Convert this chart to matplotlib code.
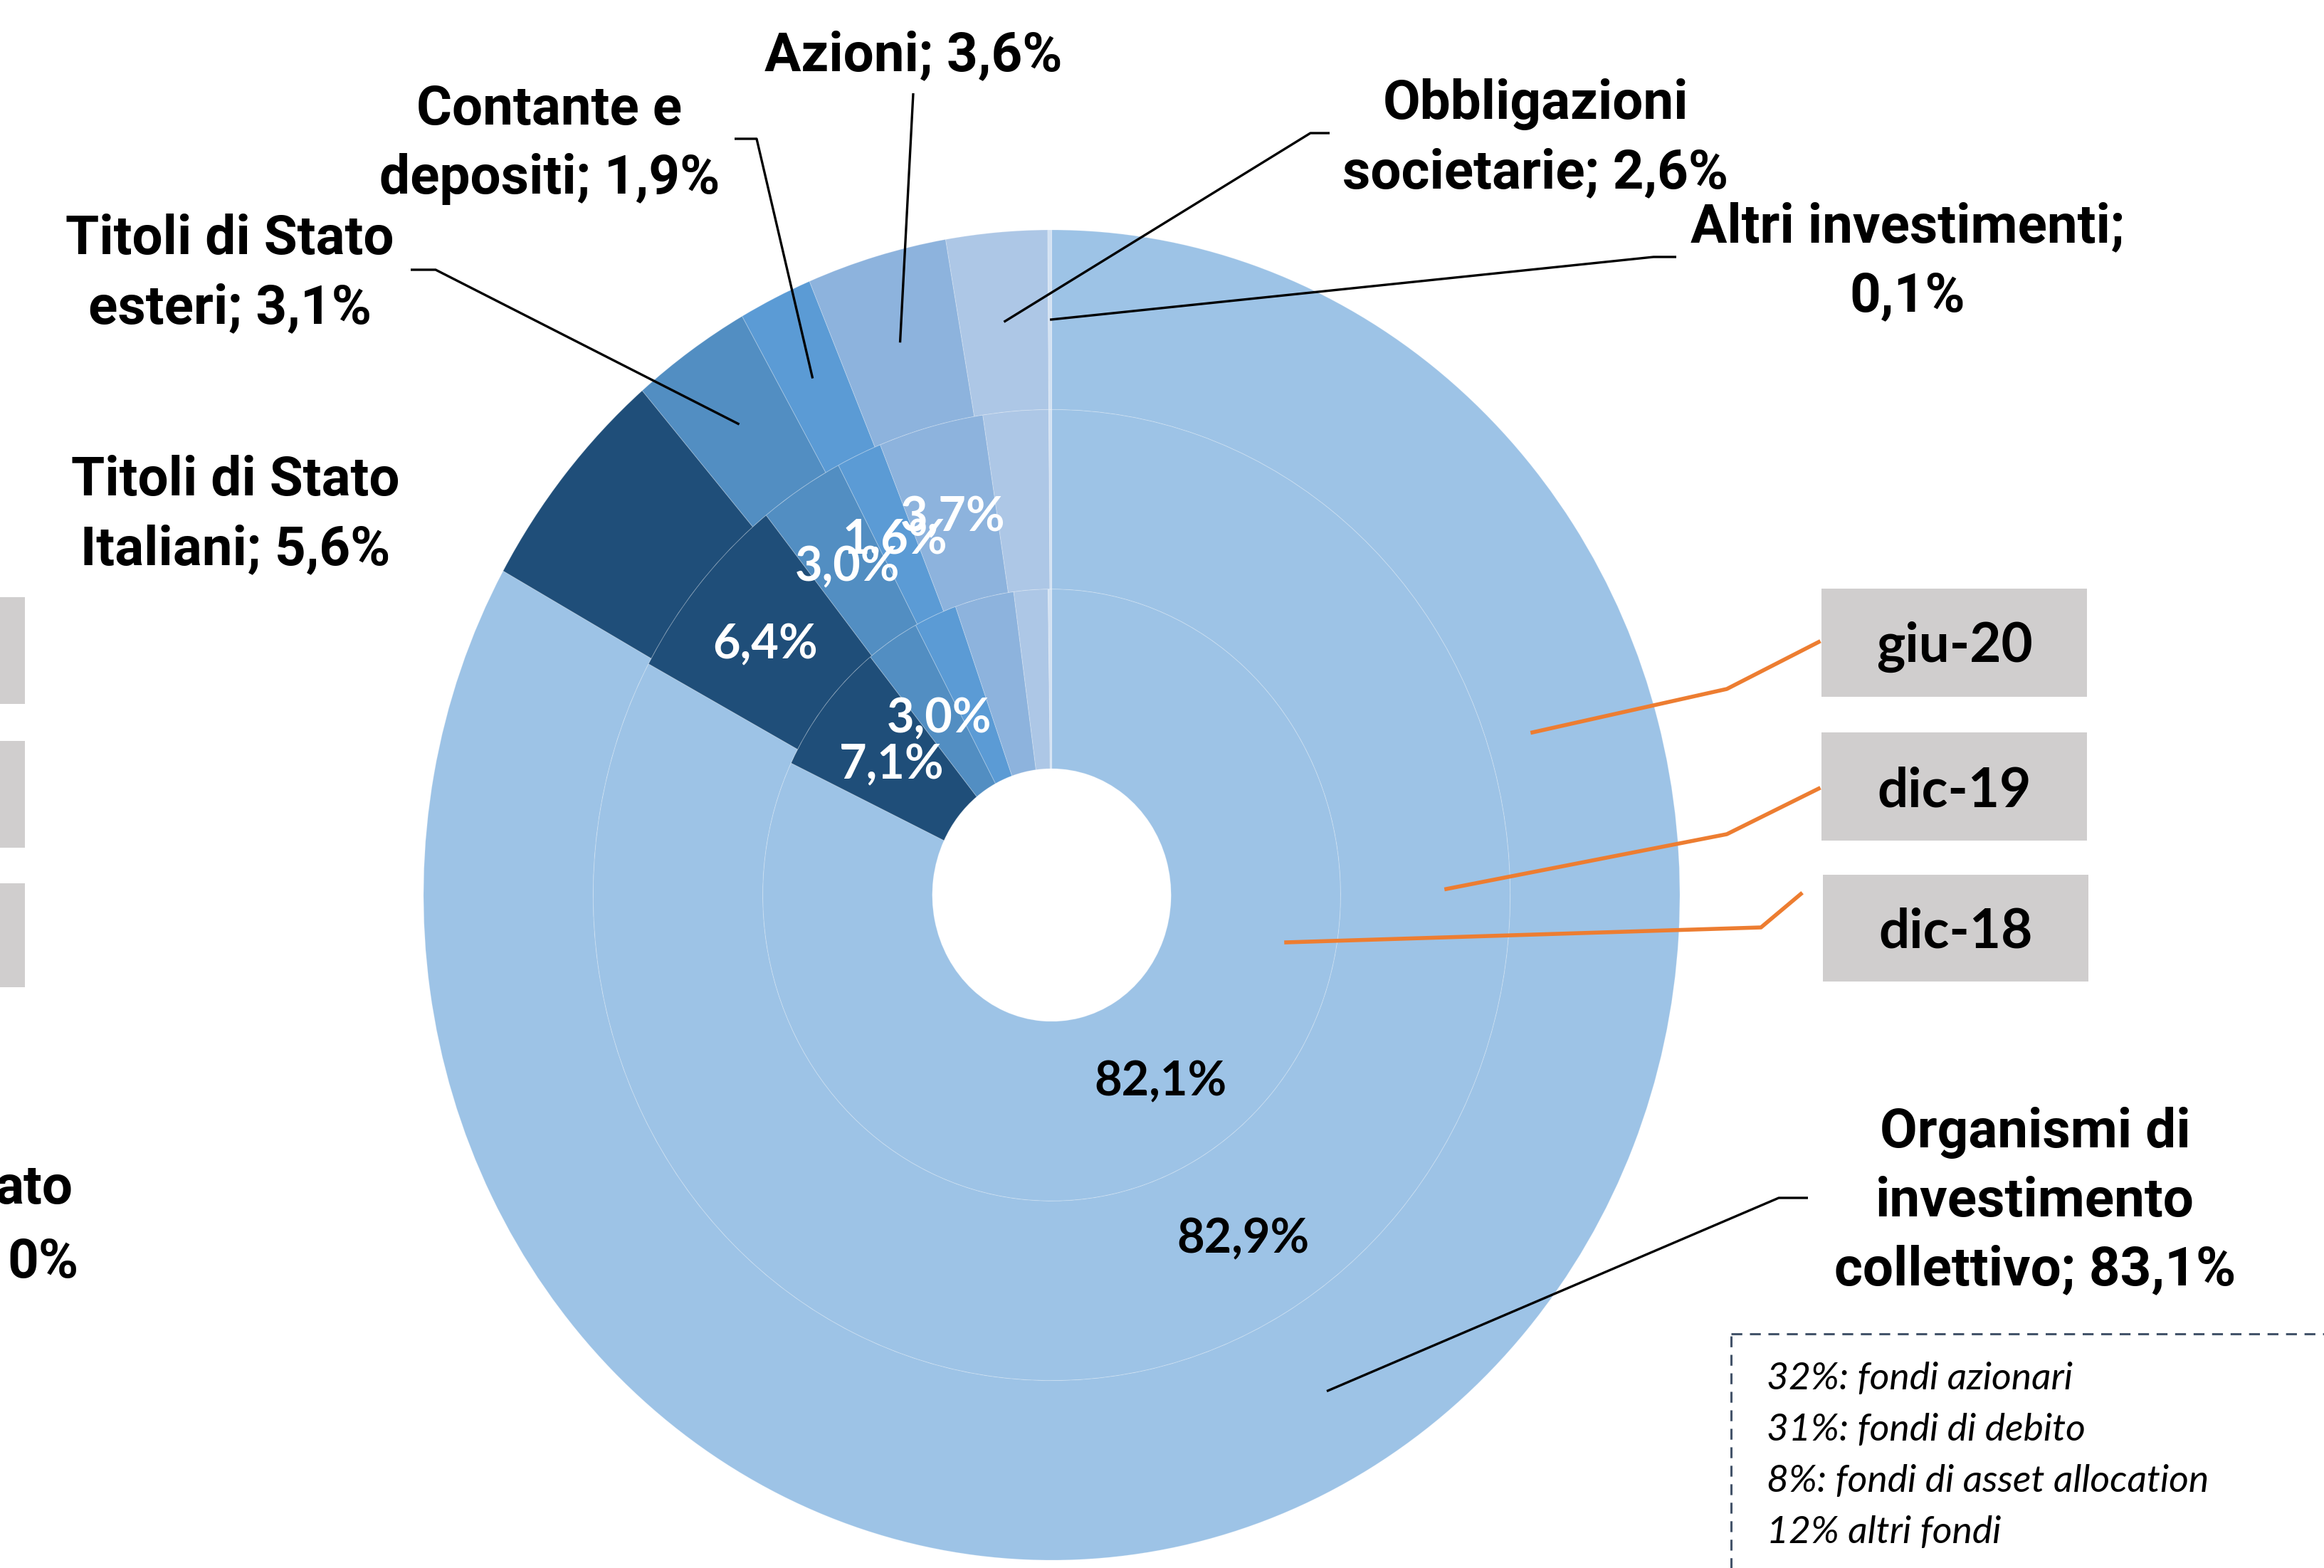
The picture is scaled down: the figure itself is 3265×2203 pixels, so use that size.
import numpy as np
import matplotlib.pyplot as plt
from matplotlib.patches import Rectangle
from matplotlib.transforms import offset_copy

# composizione degli investimenti, tre date (anello interno -> esterno)
categories = ["Organismi di investimento collettivo", "Titoli di Stato Italiani",
              "Titoli di Stato esteri", "Contante e depositi", "Azioni",
              "Obbligazioni societarie", "Altri investimenti"]
dic18 = [82.1, 7.1, 3.0, 2.4, 3.3, 1.9, 0.2]
dic19 = [82.9, 6.4, 3.0, 1.6, 3.7, 2.3, 0.1]
giu20 = [83.1, 5.6, 3.1, 1.9, 3.6, 2.6, 0.1]
periods = ["dic-18", "dic-19", "giu-20"]

colors = ["#9DC3E6", "#1F4E79", "#528EC2", "#5B9BD5", "#8DB3DD", "#ADC7E6", "#D3E2F3"]

label_names = ["Organismi di\ninvestimento\ncollettivo", "Titoli di Stato\nItaliani",
               "Titoli di Stato\nesteri", "Contante e\ndepositi", "Azioni",
               "Obbligazioni\nsocietarie", "Altri investimenti"]
label_seps = ["; ", "; ", "; ", "; ", "; ", "; ", ";\n"]

box_text = ["32%: fondi azionari", "31%: fondi di debito",
            "8%: fondi di asset allocation", "12% altri fondi"]


def pct(v):
    return f"{v:.1f}".replace(".", ",") + "%"


W, H = 3265, 2203
fig = plt.figure(figsize=(W / 100, H / 100), dpi=100)

# pie geometry in pixels (slightly taller than wide, as in the original)
cx, cy, Rx, Ry = 1477.5, 1257.5, 882.5, 934.5
ax = fig.add_axes([(cx - Rx) / W, (H - cy - Ry) / H, 2 * Rx / W, 2 * Ry / H])

hole = 0.19
width = (1 - hole) / 3
radii = [hole + width, hole + 2 * width, 1.0]
edge = dict(edgecolor=(1, 1, 1, 0.2), linewidth=0.8)
for vals, r in zip([dic18, dic19, giu20], radii):
    ax.pie(vals, radius=r, colors=colors, startangle=90, counterclock=False,
           wedgeprops=dict(width=width, **edge))
ax.set_aspect("auto")
ax.set_xlim(-1, 1)
ax.set_ylim(-1, 1)
ax.axis("off")


def mid_point(vals, i, r):
    cum = np.cumsum([0] + list(vals))
    a = np.deg2rad((cum[i] + vals[i] / 2) / sum(vals) * 360)
    return r * np.sin(a), r * np.cos(a)


num_font = dict(family=["Lato", "DejaVu Sans"], fontweight="bold", fontsize=48)
num_tr = offset_copy(ax.transData, fig=fig, y=-6, units="dots")
# data labels inside the rings
shown = [(dic19, 1, [0, 1, 2, 3, 4]), (dic18, 0, [0, 1, 2])]
for vals, k, idxs in shown:
    rmid = radii[k] - width / 2
    for i in idxs:
        x, y = mid_point(vals, i, rmid)
        ax.text(x, y, pct(vals[i]), ha="center", va="center", transform=num_tr,
                color="black" if i == 0 else "white", **num_font)

# overlay in pixel coordinates for labels, leaders and boxes
ov = fig.add_axes([0, 0, 1, 1], zorder=5)
ov.set_xlim(0, W)
ov.set_ylim(H, 0)
ov.axis("off")
ov.patch.set_alpha(0)


def to_px(x, y):
    return cx + x * Rx, cy - y * Ry


lab_font = dict(family=["Roboto", "DejaVu Sans"], fontweight="bold", fontsize=55)
label_xy = [(2859, 1688), (331, 724), (323, 385), (772, 203), (1283, 79),
            (2157, 195), (2680, 368)]
leader_pts = [[(2499, 1683), (2540, 1683)], None, [(612, 379), (577, 379)],
              [(1063, 195), (1032, 195)], [(1283, 131)],
              [(1841, 187), (1868, 187)], [(2323, 361), (2355, 361)]]
r_lead = 1 - width / 2
for i in range(len(categories)):
    ov.text(*label_xy[i], label_names[i] + label_seps[i] + pct(giu20[i]),
            ha="center", va="center", linespacing=1.42, **lab_font)
    if leader_pts[i]:
        pts = [to_px(*mid_point(giu20, i, r_lead))] + leader_pts[i]
        xs, ys = zip(*pts)
        ov.plot(xs, ys, color="black", lw=2.4, solid_capstyle="butt")

# period boxes with orange leaders
box_y = [(827, 979), (1029, 1181), (1229, 1379)]
box_x = [(2559, 2932), (2559, 2932), (2561, 2934)]
orange = [[(2153, 1029), (2426, 968), (2555, 902)],
          [(2032, 1249), (2426, 1172), (2555, 1108)],
          [(1807, 1324), (2474, 1303), (2530, 1256)]]
for j, name in enumerate(periods[::-1]):
    (x0, x1), (y0, y1) = box_x[j], box_y[j]
    ov.add_patch(Rectangle((x0, y0), x1 - x0, y1 - y0, color="#D0CECE", lw=0))
    ov.text((x0 + x1) / 2, (y0 + y1) / 2 + 6, name, ha="center", va="center",
            family=["Lato", "DejaVu Sans"], fontweight="bold", fontsize=55)
    xs, ys = zip(*orange[j])
    ov.plot(xs, ys, color="#ED7D31", lw=4)

# partial boxes and label cut at the left edge
for y0, y1 in [(839, 989), (1041, 1191), (1241, 1387)]:
    ov.add_patch(Rectangle((0, y0), 35, y1 - y0, color="#D0CECE", lw=0))
ov.text(102, 1670, "ato", ha="right", va="center", **lab_font)
ov.text(110, 1774, "0%", ha="right", va="center", **lab_font)

# note box on organismi
ov.add_patch(Rectangle((2432, 1874), 1000, 500, fill=False, edgecolor="#44546A",
                       lw=2.2, linestyle=(0, (5, 3.5))))
for k, line in enumerate(box_text):
    ov.text(2482, 1937 + k * 72, line, ha="left", va="center",
            family=["Lato", "DejaVu Sans"], style="italic", fontsize=38.5)

fig.savefig("out.png", dpi=100)
